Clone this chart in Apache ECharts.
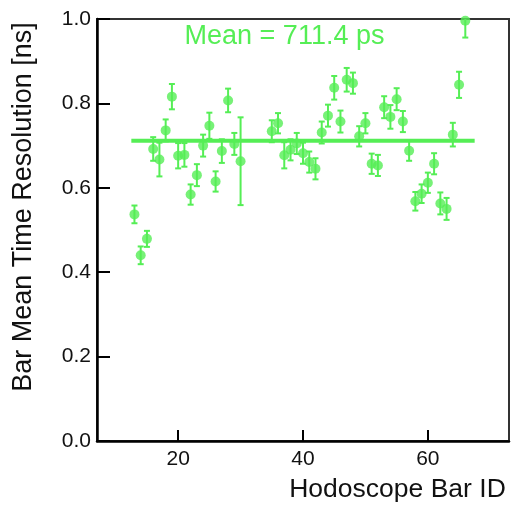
<!DOCTYPE html>
<html>
<head>
<meta charset="utf-8">
<script src="https://cdn.jsdelivr.net/npm/echarts@6/dist/echarts.min.js"></script>
<style>html,body{margin:0;padding:0;background:#fff;}#c{width:512px;height:508px;}</style>
</head>
<body>
<div id="c"></div>
<script>
const barIds = [13,14,15,16,17,18,19,20,21,22,23,24,25,26,27,28,29,30,
  35,36,37,38,39,40,41,42,43,44,45,46,47,48,49,50,51,52,53,54,55,56,57,58,59,60,61,62,63,64,65,66];
const resolution = [0.537,0.440,0.479,0.692,0.667,0.736,0.816,0.676,0.678,0.584,0.630,0.700,0.747,0.615,0.687,0.807,0.704,0.663,
  0.734,0.753,0.677,0.690,0.705,0.682,0.661,0.645,0.731,0.771,0.837,0.757,0.856,0.848,0.722,0.753,0.657,0.653,0.791,0.768,0.810,0.757,0.688,0.568,0.586,0.612,0.657,0.563,0.550,0.726,0.844,0.996];
const resolutionErr = [0.021,0.021,0.019,0.028,0.040,0.026,0.030,0.030,0.028,0.024,0.026,0.026,0.031,0.024,0.028,0.028,0.026,0.104,
  0.026,0.024,0.031,0.025,0.025,0.025,0.025,0.025,0.026,0.026,0.028,0.026,0.028,0.025,0.024,0.024,0.024,0.025,0.026,0.028,0.026,0.025,0.024,0.022,0.022,0.024,0.025,0.026,0.026,0.028,0.031,0.040];
const meanValue = 0.7114;
const meanRange = [12.5, 67.5];
const meanLabel = 'Mean = 711.4 ps';
const xTicks = [20, 40, 60];

const green = '#55ee55';
const chart = echarts.init(document.getElementById('c'), null, {renderer: 'canvas'});
const pts = barIds.map((id, i) => [id, resolution[i]]);
const errData = barIds.map((id, i) => [id, resolution[i] - resolutionErr[i], resolution[i] + resolutionErr[i]]);

chart.setOption({
  animation: false,
  backgroundColor: '#fff',
  textStyle: {fontFamily: 'Liberation Sans'},
  grid: {left: 97, right: 3, top: 19, bottom: 66, show: true, borderColor: '#333', borderWidth: 2},
  xAxis: {
    type: 'value', min: 7, max: 73,
    splitLine: {show: false},
    axisLine: {onZero: false, lineStyle: {color: '#000', width: 2.5}},
    axisTick: {inside: true, length: 11, lineStyle: {color: '#000', width: 2}, customValues: xTicks},
    axisLabel: {fontSize: 21, color: '#111', margin: 8, customValues: xTicks, fontFamily: 'Liberation Sans'},
    name: 'Hodoscope Bar ID', nameLocation: 'middle', nameGap: 35,
    nameTextStyle: {fontSize: 26.5, color: '#111', padding: [0, 0, 0, 189], fontFamily: 'Liberation Sans'}
  },
  yAxis: {
    type: 'value', min: 0, max: 1, interval: 0.2,
    splitLine: {show: false},
    axisLine: {lineStyle: {color: '#000', width: 2.5}},
    axisTick: {inside: true, length: 13, lineStyle: {color: '#000', width: 2}},
    axisLabel: {fontSize: 21, color: '#111', margin: 6, formatter: v => v.toFixed(1), fontFamily: 'Liberation Sans'},
    name: 'Bar Mean Time Resolution [ns]', nameLocation: 'middle', nameGap: 60,
    nameTextStyle: {fontSize: 27, color: '#111', padding: [0, 0, 0, 46], fontFamily: 'Liberation Sans'}
  },
  series: [
    {
      type: 'line', data: [[meanRange[0], meanValue], [meanRange[1], meanValue]],
      symbol: 'none', lineStyle: {color: green, width: 4}, z: 2
    },
    {
      type: 'custom', data: errData, clip: true, z: 3,
      renderItem: (params, api) => {
        const x = api.value(0);
        const lo = api.coord([x, api.value(1)]);
        const hi = api.coord([x, api.value(2)]);
        const style = {stroke: green, lineWidth: 2};
        return {type: 'group', children: [
          {type: 'line', shape: {x1: lo[0], y1: lo[1], x2: hi[0], y2: hi[1]}, style},
          {type: 'line', shape: {x1: lo[0]-3, y1: lo[1], x2: lo[0]+3, y2: lo[1]}, style},
          {type: 'line', shape: {x1: hi[0]-3, y1: hi[1], x2: hi[0]+3, y2: hi[1]}, style}
        ]};
      }
    },
    {
      type: 'scatter', data: pts, symbol: 'circle', symbolSize: 10,
      itemStyle: {color: green}, z: 4
    }
  ],
  graphic: [{
    type: 'text', x: 284.5, y: 37,
    style: {text: meanLabel, fill: green, font: '27px "Liberation Sans"', textAlign: 'center', textVerticalAlign: 'middle'}
  }]
});
</script>
</body>
</html>
